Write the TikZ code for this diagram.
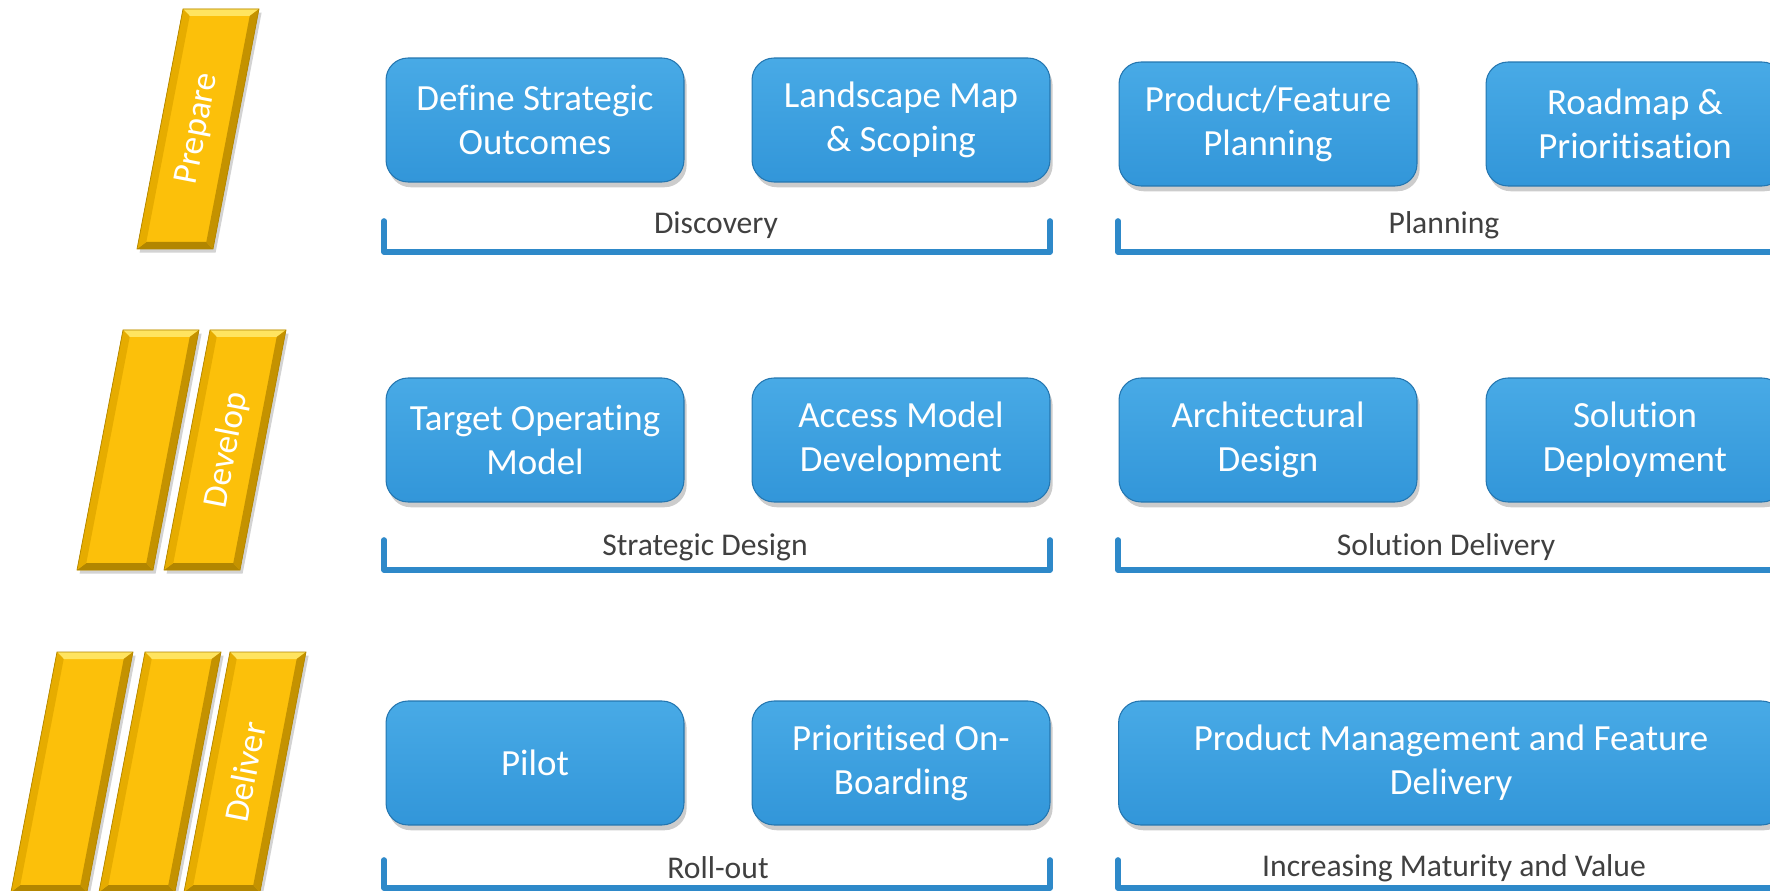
\documentclass[tikz,border=0pt]{standalone}
\usepackage{fontspec}
\setmainfont{Carlito}[Ligatures=NoCommon]
\usepackage{tikz}
\usetikzlibrary{shadows}
\definecolor{boxblue}{RGB}{50,150,217}
\definecolor{boxtop}{RGB}{72,170,230}
\definecolor{boxedge}{RGB}{36,118,176}
\definecolor{bracketblue}{RGB}{46,137,201}
\definecolor{labelgray}{RGB}{64,64,64}
\definecolor{gold}{RGB}{252,192,10}
\definecolor{goldlight}{RGB}{255,228,96}
\definecolor{golddark}{RGB}{178,134,0}
\definecolor{goldmid}{RGB}{230,172,0}
\newcommand{\goldbar}[2]{% bottom-left corner of one bar
  \begin{scope}[shift={(#1,#2)}]
    \fill[gold, drop shadow={shadow xshift=1.5pt, shadow yshift=-2pt, opacity=0.35}]
      (0,0) -- (76,0) -- (122,-240) -- (46,-240) -- cycle;
    \fill[goldlight] (46,-240) -- (122,-240) -- (112.7,-233) -- (52.7,-233) -- cycle;
    \fill[golddark] (0,0) -- (76,0) -- (69.3,-7) -- (9.3,-7) -- cycle;
    \fill[goldmid] (0,0) -- (9.3,-7) -- (52.7,-233) -- (46,-240) -- cycle;
    \fill[goldmid!85!black] (76,0) -- (122,-240) -- (112.7,-233) -- (69.3,-7) -- cycle;
    \draw[golddark, line width=0.4pt] (0,0) -- (76,0) -- (122,-240) -- (46,-240) -- cycle;
  \end{scope}}
\tikzset{
  stage/.style={rounded corners=0.44cm, minimum width=5.96cm, minimum height=2.48cm,
    top color=boxtop, bottom color=boxblue, draw=boxedge, line width=0.6pt,
    drop shadow={shadow xshift=1.5pt, shadow yshift=-3pt, opacity=0.4},
    text=white, align=center, inner sep=0pt, font=\fontsize{21}{25}\selectfont},
  phase/.style={text=labelgray, inner sep=0pt, font=\fontsize{18}{21}\selectfont},
  bracket/.style={draw=bracketblue, line width=3.2pt, line cap=round, line join=round},
  barlabel/.style={text=white, rotate=79, inner sep=0pt, font=\fontsize{20}{24}\selectfont}
}
\begin{document}
\begin{tikzpicture}[x=0.02cm, y=-0.02cm]
  \clip (0,0) rectangle (1770,891);
  % phase bars
  \goldbar{137}{249}
  \goldbar{77}{570}
  \goldbar{164}{570}
  \goldbar{11}{892}
  \goldbar{99}{892}
  \goldbar{184}{892}
  \node[barlabel] (prepare) at (198,129) {Prepare};
  \node[barlabel] (develop) at (227,450) {Develop};
  \node[barlabel] (deliver) at (245,772) {Deliver};
  % prepare row
  \node[stage] (outcomes) at (535,120) {Define Strategic\\Outcomes};
  \node[stage] (landscape) at (901,120) {Landscape Map\\\& Scoping};
  \node[stage] (featureplan) at (1268,124) {Product/Feature\\Planning};
  \node[stage] (roadmap) at (1635,124) {Roadmap \&\\Prioritisation};
  \draw[bracket] (384,221) -- (384,252) -- (1050,252) -- (1050,221);
  \draw[bracket] (1118,221) -- (1118,252) -- (1790,252);
  \node[phase] (discovery) at (716,225) {Discovery};
  \node[phase] (planning) at (1444,225) {Planning};
  % develop row
  \node[stage] (tom) at (535,440) {Target Operating\\Model};
  \node[stage] (accessmodel) at (901,440) {Access Model\\Development};
  \node[stage] (archdesign) at (1268,440) {Architectural\\Design};
  \node[stage] (deployment) at (1635,440) {Solution\\Deployment};
  \draw[bracket] (384,540) -- (384,570) -- (1050,570) -- (1050,540);
  \draw[bracket] (1118,540) -- (1118,570) -- (1790,570);
  \node[phase] (stratdesign) at (705,547) {Strategic Design};
  \node[phase] (soldelivery) at (1446,547) {Solution Delivery};
  % deliver row
  \node[stage] (pilot) at (535,763) {Pilot};
  \node[stage] (onboarding) at (901,763) {Prioritised On-\\Boarding};
  \node[stage, minimum width=13.3cm] (prodmgmt) at (1451,763)
    {Product Management and Feature\\Delivery};
  \draw[bracket] (384,860) -- (384,888) -- (1050,888) -- (1050,860);
  \draw[bracket] (1118,860) -- (1118,888) -- (1790,888);
  \node[phase] (rollout) at (718,868) {Roll-out};
  \node[phase] (maturity) at (1454,868) {Increasing Maturity and Value};
\end{tikzpicture}
\end{document}
